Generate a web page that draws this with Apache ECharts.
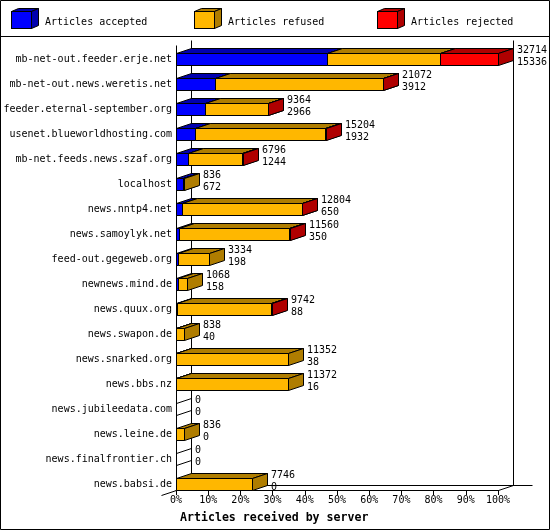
<!DOCTYPE html>
<html><head><meta charset="utf-8">
<script src="https://cdn.jsdelivr.net/npm/echarts@6/dist/echarts.min.js"></script>
<style>html,body{margin:0;padding:0;background:#fff}#c{width:550px;height:530px}</style>
</head><body><div id="c"></div>
<script>
const categories = ['mb-net-out.feeder.erje.net','mb-net-out.news.weretis.net','feeder.eternal-september.org','usenet.blueworldhosting.com','mb-net.feeds.news.szaf.org','localhost','news.nntp4.net','news.samoylyk.net','feed-out.gegeweb.org','newnews.mind.de','news.quux.org','news.swapon.de','news.snarked.org','news.bbs.nz','news.jubileedata.com','news.leine.de','news.finalfrontier.ch','news.babsi.de'];
const accepted = [15336,3912,2966,1932,1244,672,650,350,198,158,88,40,38,16,0,0,0,0];
const refused  = [11470,17120,6368,13192,5492,164,12114,11110,3136,910,9554,798,11314,11356,0,836,0,7746];
const rejected = [5908,40,30,80,60,0,40,100,0,0,100,0,0,0,0,0,0,0];
const seriesNames = ['Articles accepted','Articles refused','Articles rejected'];
const tickLabels = ['0%','10%','20%','30%','40%','50%','60%','70%','80%','90%','100%'];

const FONT = '"DejaVu Sans Mono", "Liberation Mono", monospace';
const COLORS = [['#0000FF','#0000AF'],['#FFB700','#AF7D00'],['#FF0000','#AF0000']];
const DX = 15, DY = -5;

const totals = categories.map((c,i)=>accepted[i]+refused[i]+rejected[i]);
const maxTotal = Math.max(...totals);
const pct = v => v / maxTotal * 100;

const segData = [
  categories.map((c,i)=>[0, pct(accepted[i]), i, totals[i]]),
  categories.map((c,i)=>[pct(accepted[i]), pct(accepted[i]+refused[i]), i, totals[i]]),
  categories.map((c,i)=>[pct(accepted[i]+refused[i]), pct(totals[i]), i, totals[i]])
];

function barGeom(api, i) {
  const c = api.coord([0, i])[1];
  const bh = api.size([0, 1])[1];
  const yt = Math.floor(c - bh * 0.24) + 0.5;
  const yb = yt + Math.round(bh * 0.48);
  return {c, bh, yt, yb};
}

function boxRenderer(k) {
  return function (params, api) {
    const s = api.value(0), e = api.value(1), i = api.value(2), tot = api.value(3);
    const g = barGeom(api, i);
    const x0 = Math.round(api.coord([s, i])[0]) + 0.5;
    const x1 = Math.round(api.coord([e, i])[0]) + 0.5;
    const stroke = {stroke: '#000', lineWidth: 1};
    if (!(e > s)) {
      if (k === 0 && tot === 0) {
        return {type: 'polygon', shape: {points: [[x0, g.yt], [x0 + DX, g.yt + DY], [x0 + DX, g.yb + DY], [x0, g.yb]]},
          style: Object.assign({fill: 'none'}, stroke)};
      }
      return null;
    }
    return {type: 'group', children: [
      {type: 'rect', shape: {x: x0, y: g.yt, width: x1 - x0, height: g.yb - g.yt}, style: Object.assign({fill: COLORS[k][0]}, stroke)},
      {type: 'polygon', shape: {points: [[x0, g.yt], [x0 + DX, g.yt + DY], [x1 + DX, g.yt + DY], [x1, g.yt]]}, style: Object.assign({fill: COLORS[k][1]}, stroke)},
      {type: 'polygon', shape: {points: [[x1, g.yt], [x1 + DX, g.yt + DY], [x1 + DX, g.yb + DY], [x1, g.yb]]}, style: Object.assign({fill: COLORS[k][1]}, stroke)}
    ]};
  };
}

function frameRenderer(params, api) {
  const n = categories.length;
  const x0 = Math.round(api.coord([0, 0])[0]) + 0.5;
  const x100 = Math.round(api.coord([100, 0])[0]) + 0.5;
  const g0 = barGeom(api, 0);
  const gl = barGeom(api, n - 1);
  const fb = gl.yb;
  const ft = Math.floor(g0.c - g0.bh / 2 - 2) + 0.5;
  const ln = (a, b, c, d) => ({type: 'line', shape: {x1: a, y1: b, x2: c, y2: d}, style: {stroke: '#000', lineWidth: 1}});
  return {type: 'group', children: [
    ln(x0, ft, x0, fb),
    ln(x0 + DX, ft + DY, x0 + DX, fb + DY),
    ln(x100 + DX, ft + DY, x100 + DX, fb + DY),
    ln(x0 + DX, fb + DY, x100 + DX + 19, fb + DY),
    ln(x0 - DX, fb - DY, x0 + DX, fb + DY),
    ln(x100, fb, x100 + DX, fb + DY),
    ln(x0, fb, x100, fb)
  ]};
}

function labelRenderer(params, api) {
  const e = api.value(0), i = api.value(1);
  const g = barGeom(api, i);
  const x = Math.round(api.coord([e, i])[0]) + DX + 4;
  const st = (t, y) => ({type: 'text', x: x, y: y, style: {text: t, fill: '#000', font: '10px ' + FONT, textAlign: 'left', textVerticalAlign: 'middle'}});
  return {type: 'group', children: [
    st(String(api.value(2)), Math.round(g.c - 10)),
    st(String(api.value(3)), Math.round(g.c + 2))
  ]};
}

function cubeIcon(k) {
  const svg = '<svg xmlns="http://www.w3.org/2000/svg" width="28" height="21" viewBox="0 0 28 21">' +
    '<polygon points="0.5,3.5 7.5,0.5 27.5,0.5 20.5,3.5" fill="' + COLORS[k][1] + '" stroke="#000"/>' +
    '<polygon points="20.5,3.5 27.5,0.5 27.5,17.5 20.5,20.5" fill="' + COLORS[k][1] + '" stroke="#000"/>' +
    '<rect x="0.5" y="3.5" width="20" height="17" fill="' + COLORS[k][0] + '" stroke="#000"/></svg>';
  return 'image://data:image/svg+xml;charset=utf-8,' + encodeURIComponent(svg);
}

const legendLefts = [11, 194, 377];
const chart = echarts.init(document.getElementById('c'));
chart.setOption({
  animation: false,
  backgroundColor: '#fff',
  title: {text: 'Articles received by server', left: 180, top: 512, padding: 0,
    textStyle: {fontFamily: FONT, fontSize: 11.6, fontWeight: 'bold', color: '#000'}},
  legend: seriesNames.map((nm, k) => ({
    data: [{name: nm, icon: cubeIcon(k)}], left: legendLefts[k], top: 8, padding: 0,
    itemWidth: 28, itemHeight: 21, selectedMode: false,
    formatter: '{t|{name}}',
    textStyle: {fontFamily: FONT, fontSize: 10, color: '#000',
      rich: {t: {fontFamily: FONT, fontSize: 10, color: '#000', padding: [7, 0, 0, 1]}}}
  })),
  grid: {left: 176, right: 52, top: 47, bottom: 33},
  xAxis: {type: 'value', min: 0, max: 100, interval: 10, offset: -7,
    axisLine: {show: true, lineStyle: {color: '#000', width: 1}},
    axisTick: {show: true, length: 5, lineStyle: {color: '#000'}},
    splitLine: {show: false},
    axisLabel: {margin: 5, color: '#000', fontFamily: FONT, fontSize: 10,
      formatter: v => tickLabels[Math.round(v / 10)]}},
  yAxis: {type: 'category', inverse: true, data: categories,
    axisLine: {show: false}, axisTick: {show: false}, splitLine: {show: false},
    axisLabel: {margin: 4, color: '#000', fontFamily: FONT, fontSize: 10}},
  graphic: [
    {type: 'rect', shape: {x: 0.5, y: 0.5, width: 549, height: 529}, style: {fill: 'none', stroke: '#000', lineWidth: 1}, silent: true},
    {type: 'line', shape: {x1: 0, y1: 36.5, x2: 550, y2: 36.5}, style: {stroke: '#000', lineWidth: 1}, silent: true}
  ],
  series: [
    {type: 'custom', silent: true, clip: false, renderItem: frameRenderer, data: [[0, 0]], encode: {x: 0, y: 1}, z: 1},
    ...seriesNames.map((nm, k) => ({
      type: 'custom', name: nm, silent: true, clip: false, renderItem: boxRenderer(k),
      data: segData[k], encode: {x: [0, 1], y: 2}, z: 2
    })),
    {type: 'custom', silent: true, clip: false, renderItem: labelRenderer, z: 3,
      data: categories.map((c, i) => [pct(totals[i]), i, totals[i], accepted[i]]), encode: {x: 0, y: 1}}
  ]
});
</script></body></html>
